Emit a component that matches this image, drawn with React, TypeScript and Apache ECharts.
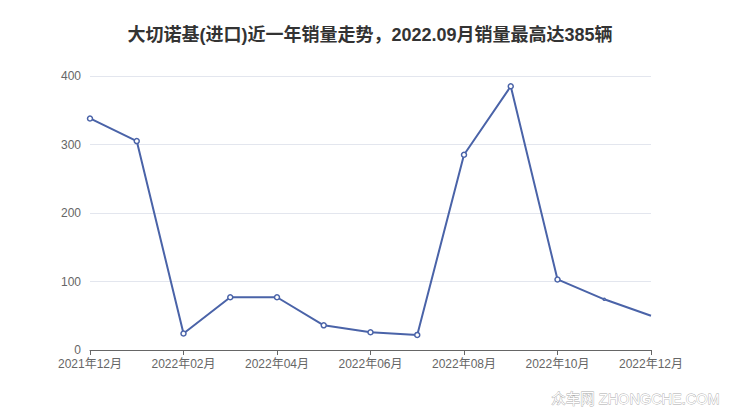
import React, { useRef, useEffect } from "react";
import * as echarts from "echarts";

const months = [
  "2021年12月",
  "2022年01月",
  "2022年02月",
  "2022年03月",
  "2022年04月",
  "2022年05月",
  "2022年06月",
  "2022年07月",
  "2022年08月",
  "2022年09月",
  "2022年10月",
  "2022年11月",
  "2022年12月",
];
const sales = [338, 305, 24, 77, 77, 36, 26, 22, 285, 385, 103, 74, 50];
const titleText = "大切诺基(进口)近一年销量走势，2022.09月销量最高达385辆";
const watermark = "众车网 ZHONGCHE.COM";

const font = "'Liberation Sans', 'Noto Sans CJK SC', sans-serif";

const App = function () {
  const chart = useRef<HTMLDivElement>(null);
  useEffect(() => {
    if (!chart.current) return;
    const myChart = echarts.init(chart.current, null, { renderer: "svg" });
    const option = {
      animation: false,
      backgroundColor: "#fff",
      title: {
        text: titleText,
        left: "center",
        top: 21,
        textStyle: {
          color: "#333",
          fontSize: 18,
          fontWeight: "bold",
          fontFamily: font,
        },
      },
      grid: {
        left: 90,
        right: 89,
        top: 76,
        bottom: 67,
        containLabel: false,
      },
      xAxis: {
        type: "category",
        boundaryGap: false,
        data: months,
        axisLine: { lineStyle: { color: "#666" } },
        axisTick: { interval: 1, lineStyle: { color: "#666" } },
        axisLabel: {
          interval: 1,
          color: "#666",
          fontSize: 12,
          fontFamily: font,
        },
      },
      yAxis: {
        type: "value",
        min: 0,
        max: 400,
        interval: 100,
        axisLine: { show: false },
        axisTick: { show: false },
        axisLabel: { color: "#666", fontSize: 12, margin: 9, fontFamily: font },
        splitLine: { lineStyle: { color: "#e3e6ee" } },
      },
      graphic: [
        {
          type: "text",
          right: 20,
          top: 391,
          style: {
            text: watermark,
            fontSize: 14.5,
            fontFamily: font,
            fill: "#fff",
            stroke: "#aaa",
            lineWidth: 0.8,
          },
        },
      ],
      series: [
        {
          type: "line",
          data: sales.map((v, i) => ({
            value: v,
            symbolSize: i === sales.length - 1 ? 0 : i === sales.length - 2 ? 2 : 5,
          })),
          symbol: "circle",
          lineStyle: { color: "#4a63a8", width: 2 },
          itemStyle: { color: "#fff", borderColor: "#4a63a8", borderWidth: 1.5 },
        },
      ],
    };
    myChart.setOption(option);
    return () => {
      myChart.dispose();
    };
  }, []);
  return <div ref={chart} style={{ width: 740, height: 417, margin: -8 }}></div>;
};
export default App;
